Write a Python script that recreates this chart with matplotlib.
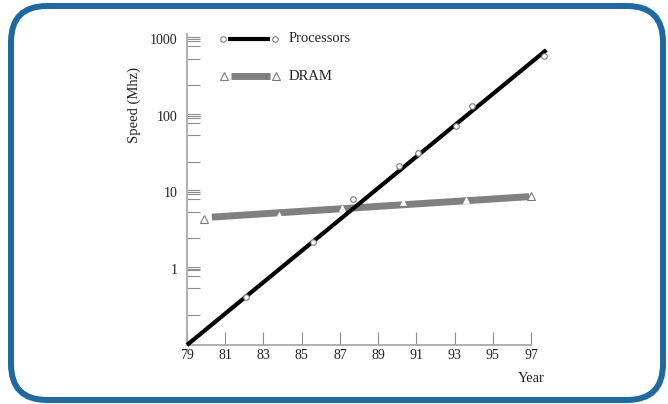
import matplotlib
matplotlib.use("Agg")
import matplotlib.pyplot as plt
from matplotlib.patches import FancyBboxPatch
from matplotlib.lines import Line2D

plt.rcParams['font.family'] = ['Liberation Serif', 'DejaVu Serif']

# data
proc_years = [82.1, 85.6, 87.7, 90.1, 91.1, 93.1, 93.9, 97.7]
proc_speed = [0.42, 2.2, 8.1, 22, 32, 74, 135, 605]
proc_fit_years = [79, 97.8]
proc_fit_speed = [0.1, 718]

dram_years = [79.9, 83.8, 87.1, 90.3, 93.6, 97.0]
dram_speed = [4.4, 5.0, 6.2, 7.4, 7.9, 8.9]
dram_fit_years = [80.3, 96.9]
dram_fit_speed = [4.7, 8.7]

year_ticks = [79, 81, 83, 85, 87, 89, 91, 93, 95, 97]
speed_ticks = [1, 10, 100, 1000]
speed_labels = ['1', '10', '100', '1000']

W, H = 668, 404
fig = plt.figure(figsize=(W / 100, H / 100), dpi=100)
ax = fig.add_axes([187 / W, 59 / H, 344 / W, 310.6 / H])

axis_col = '#a8a8a8'
tick_col = '#8c8c8c'
text_col = '#222222'

# fitted lines
ax.plot(proc_fit_years, proc_fit_speed, color='black', lw=3.0,
        solid_capstyle='butt', clip_on=False, zorder=3)
ax.plot(dram_fit_years, dram_fit_speed, color='#808080', lw=5.0,
        solid_capstyle='butt', clip_on=False, zorder=2)

# measured points
ax.plot(proc_years, proc_speed, 'o', ms=4, mfc='white', mec='#7a7a7a',
        mew=0.8, clip_on=False, zorder=4)
inner = slice(1, -1)
ax.plot(dram_years[inner], dram_speed[inner], '^', ms=5, mfc='white',
        mec='white', mew=0.5, clip_on=False, zorder=4)
ax.plot([dram_years[0], dram_years[-1]], [dram_speed[0], dram_speed[-1]],
        '^', ms=6, mfc='white', mec='#7a7a7a', mew=0.8, clip_on=False, zorder=4)

ax.set_yscale('log')
ax.set_xlim(79, 97)
ax.set_ylim(0.1, 1150)

for s in ['top', 'right']:
    ax.spines[s].set_visible(False)
for s in ['left', 'bottom']:
    ax.spines[s].set_color(axis_col)
    ax.spines[s].set_linewidth(1.3)

ax.set_xticks(year_ticks)
ax.set_xticklabels([str(y) for y in year_ticks])
ax.set_yticks(speed_ticks)
ax.set_yticklabels(speed_labels)

# small tick clusters at each decade plus a few in-between ticks
minor = []
for d in speed_ticks:
    minor += [d * 10 ** 0.026, d * 10 ** -0.026, d * 0.8, d * 0.55, d * 0.25]
ax.set_yticks(minor, minor=True)
ax.xaxis.set_minor_locator(matplotlib.ticker.NullLocator())

ax.tick_params(axis='both', which='both', direction='in', length=9.5,
               width=0.8, color=tick_col, labelsize=10, labelcolor=text_col)
ax.tick_params(axis='y', which='major', pad=7)
ax.tick_params(axis='x', which='major', pad=3)
ax.tick_params(axis='y', which='minor', labelleft=False)

fig.text(531 / W, 1 - 378 / H, 'Year', fontsize=10.5, color=text_col,
         ha='center', va='center')
fig.text(134 / W, 1 - 105 / H, 'Speed (Mhz)', rotation=90, fontsize=10.5,
         color=text_col, ha='center', va='center')

# legend, drawn by hand
def px(x, y):
    return x / W, 1 - y / H

lx1 = px(270, 0)[0]
y1 = px(0, 39)[1]
fig.add_artist(Line2D([px(228, 0)[0], lx1], [y1, y1], color='black', lw=3.0,
                      solid_capstyle='butt', transform=fig.transFigure))
fig.add_artist(Line2D([px(223, 0)[0], px(275, 0)[0]], [y1, y1], ls='none',
                      marker='o', ms=4, mfc='white', mec='#7a7a7a', mew=0.8,
                      transform=fig.transFigure))
fig.text(px(289, 0)[0], y1, 'Processors', fontsize=10.5, color=text_col,
         ha='left', va='center')

y2 = px(0, 76)[1]
fig.add_artist(Line2D([px(231, 0)[0], lx1], [y2, y2], color='#808080', lw=5.0,
                      solid_capstyle='butt', transform=fig.transFigure))
fig.add_artist(Line2D([px(224, 0)[0], px(276, 0)[0]], [y2, y2], ls='none',
                      marker='^', ms=6, mfc='white', mec='#7a7a7a', mew=0.8,
                      transform=fig.transFigure))
fig.text(px(289, 0)[0], y2, 'DRAM', fontsize=10.5, color=text_col,
         ha='left', va='center')

# rounded blue frame
frame = FancyBboxPatch((11, 4), 652, 394,
                       boxstyle='round,pad=0,rounding_size=36',
                       fill=False, ec='#1f69a3', lw=4.3, transform=None)
fig.add_artist(frame)

fig.savefig('out.png', dpi=100)
